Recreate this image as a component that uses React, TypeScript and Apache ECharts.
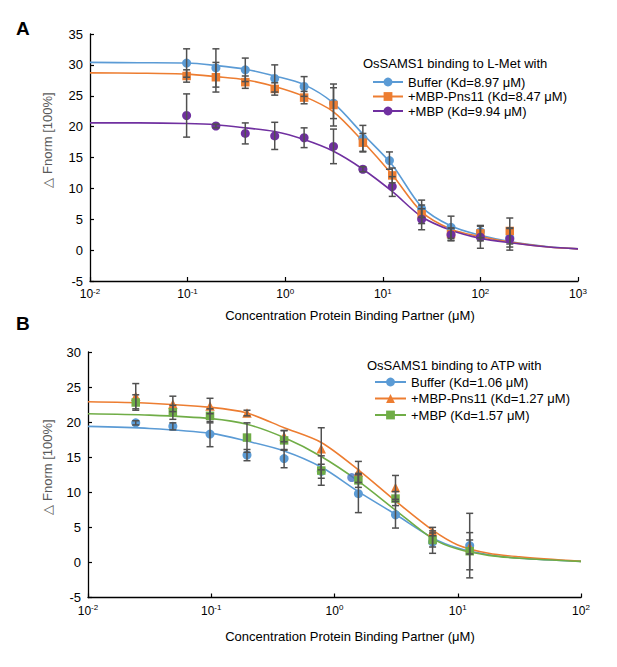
import React, { useEffect, useRef } from "react";
import * as echarts from "echarts";

// ---------- Panel A data (OsSAMS1 binding to L-Met) ----------
const concA = [0.0977, 0.195, 0.39, 0.781, 1.5625, 3.125, 6.25, 12.5, 25, 50, 100, 200];
const concBufferA = [0.0977, 0.195, 0.39, 0.781, 1.5625, 3.125, 6.25, 11.7, 25, 50, 100, 200];
const bufferA = [30.3, 29.5, 29.2, 27.8, 26.5, 23.8, 18.1, 14.5, 6.7, 3.7, 3.0, 2.0];
const bufferErrA = [2.3, 3.1, 1.9, 2.2, 1.6, 2.5, 2.1, 1.4, 1.4, 1.8, 1.0, 1.5];
const pns11A = [28.2, 28.0, 27.2, 26.1, 24.7, 23.5, 17.4, 12.1, 5.8, 2.6, 2.7, 3.1];
const pns11ErrA = [1.0, 2.4, 1.0, 1.0, 1.0, 3.4, 1.5, 1.2, 1.5, 1.0, 1.2, 2.1];
const mbpA = [21.8, 20.1, 18.9, 18.5, 18.2, 16.8, 13.1, 10.3, 5.0, 2.5, 2.1, 1.8];
const mbpErrA = [3.5, 0.3, 1.7, 2.2, 1.6, 2.8, 0.4, 1.6, 1.7, 1.0, 1.8, 1.8];

const fitXA = [0.01, 0.0316, 0.0977, 0.195, 0.39, 0.78, 1.56, 3.125, 6.25, 12.5, 25, 50, 100, 200, 500, 1000];
const fitBufferA = [30.4, 30.35, 30.3, 29.9, 29.3, 28.2, 26.8, 23.8, 18.8, 13.8, 7.0, 3.9, 2.4, 1.4, 0.55, 0.2];
const fitPns11A = [28.7, 28.65, 28.5, 28.1, 27.6, 26.5, 24.9, 22.4, 17.6, 12.2, 6.2, 3.4, 2.2, 1.3, 0.5, 0.2];
const fitMbpA = [20.6, 20.6, 20.5, 20.3, 19.8, 19.2, 17.9, 16.0, 13.1, 9.5, 5.4, 3.2, 1.9, 1.2, 0.5, 0.2];

const namesA = ["Buffer (Kd=8.97 μM)", "+MBP-Pns11 (Kd=8.47 μM)", "+MBP (Kd=9.94 μM)"];

// ---------- Panel B data (OsSAMS1 binding to ATP) ----------
const concB = [0.0244, 0.0488, 0.0977, 0.195, 0.39, 0.781, 1.5625, 3.125, 6.25, 12.5];
const bufferB = [19.9, 19.4, 18.3, 15.3, 14.8, 13.0, 9.8, 6.8, 2.9, 2.4];
const bufferErrB = [0.3, 0.5, 1.8, 0.8, 1.3, 1.0, 2.7, 1.9, 1.6, 4.6];
const pns11B = [23.7, 22.6, 22.3, 21.3, 18.0, 16.2, 12.9, 10.7, 4.4, 2.2];
const pns11ErrB = [1.8, 1.1, 1.1, 0.4, 0.8, 3.0, 1.5, 1.7, 0.6, 1.0];
const mbpB = [22.8, 21.4, 20.9, 17.8, 17.4, 13.1, 11.7, 9.1, 3.2, 1.6];
const mbpErrB = [1.1, 1.0, 1.0, 2.1, 1.4, 2.1, 1.0, 1.0, 1.0, 2.65];
const extraPointB = [[1.38, 12.1]];

const fitXB = [0.01, 0.0316, 0.1, 0.195, 0.39, 0.78, 1.56, 3.16, 6.25, 10, 17.8, 31.6, 100];
const fitBufferB = [19.4, 19.1, 18.4, 17.3, 15.9, 13.6, 10.1, 6.8, 3.5, 2.05, 1.1, 0.6, 0.15];
const fitPns11B = [22.9, 22.7, 22.1, 21.3, 19.2, 17.1, 13.2, 8.7, 4.6, 2.5, 1.3, 0.8, 0.15];
const fitMbpB = [21.2, 21.0, 20.5, 19.7, 17.8, 15.1, 11.6, 7.4, 3.4, 1.9, 1.0, 0.6, 0.15];

const namesB = ["Buffer (Kd=1.06 μM)", "+MBP-Pns11 (Kd=1.27 μM)", "+MBP (Kd=1.57 μM)"];

// ---------- Ticks ----------
const yTicksA = { min: -5, max: 35, interval: 5 };
const yTicksB = { min: -5, max: 30, interval: 5 };
const xRangeA = { min: 0.01, max: 1000 };
const xRangeB = { min: 0.01, max: 100 };

const BLUE = "#5B9BD5";
const ORANGE = "#ED7D31";
const PURPLE = "#7030A0";
const GREEN = "#70AD47";
const BAR = "#505050";
const FONT = '"Liberation Sans", Arial, Helvetica, sans-serif';

const zip = (xs: number[], ys: number[]) => xs.map((x, i) => [x, ys[i]]);
const errData = (xs: number[], ys: number[], es: number[]) =>
  xs.map((x, i) => [x, ys[i] - es[i], ys[i] + es[i]]);

const renderErr = (params: any, api: any) => {
  const x = api.value(0);
  const lo = api.value(1);
  const hi = api.value(2);
  const p1 = api.coord([x, hi]);
  const p2 = api.coord([x, lo]);
  const w = 3.5;
  const st = { stroke: BAR, lineWidth: 1.5 };
  return {
    type: "group",
    children: [
      { type: "line", shape: { x1: p1[0], y1: p1[1], x2: p2[0], y2: p2[1] }, style: st },
      { type: "line", shape: { x1: p1[0] - w, y1: p1[1], x2: p1[0] + w, y2: p1[1] }, style: st },
      { type: "line", shape: { x1: p2[0] - w, y1: p2[1], x2: p2[0] + w, y2: p2[1] }, style: st },
    ],
  };
};

const supFormatter = (v: number) => "10{s|" + Math.round(Math.log10(v)) + "}";

const makeX = (idx: number, range: { min: number; max: number }) => ({
  type: "log",
  logBase: 10,
  gridIndex: idx,
  min: range.min,
  max: range.max,
  axisLine: { show: true, onZero: false, lineStyle: { color: "#000", width: 1.3 } },
  axisTick: { show: true, inside: true, length: 4, lineStyle: { color: "#000", width: 1.2 } },
  minorTick: { show: false },
  splitLine: { show: false },
  axisLabel: {
    margin: 6,
    formatter: supFormatter,
    color: "#000",
    fontFamily: FONT,
    fontSize: 12,
    lineHeight: 14,
    rich: {
      s: { fontSize: 8, lineHeight: 14, verticalAlign: "top", fontFamily: FONT, color: "#000" },
    },
  },
});

const makeY = (idx: number, t: { min: number; max: number; interval: number }) => ({
  type: "value",
  gridIndex: idx,
  min: t.min,
  max: t.max,
  interval: t.interval,
  axisLine: { show: true, lineStyle: { color: "#000", width: 1.3 } },
  axisTick: { show: true, inside: true, length: 4, lineStyle: { color: "#000", width: 1.2 } },
  splitLine: { show: false },
  axisLabel: { margin: 7, color: "#000", fontFamily: FONT, fontSize: 13 },
});

const curve = (name: string, idx: number, xs: number[], ys: number[], color: string, symbol: string) => ({
  type: "line",
  name,
  xAxisIndex: idx,
  yAxisIndex: idx,
  data: zip(xs, ys),
  smooth: 0.3,
  showSymbol: false,
  symbol,
  color,
  lineStyle: { color, width: 1.6 },
  z: 2,
});

const points = (name: string, idx: number, xs: number[], ys: number[], color: string, symbol: string, size: number) => ({
  type: "scatter",
  name,
  xAxisIndex: idx,
  yAxisIndex: idx,
  data: zip(xs, ys),
  symbol,
  symbolSize: size,
  itemStyle: { color, opacity: 1 },
  z: 3,
});

const bars = (idx: number, xs: number[], ys: number[], es: number[]) => ({
  type: "custom",
  xAxisIndex: idx,
  yAxisIndex: idx,
  renderItem: renderErr,
  encode: { x: 0, y: [1, 2] },
  data: errData(xs, ys, es),
  z: 4,
  silent: true,
});

export default function App() {
  const ref = useRef<HTMLDivElement>(null);
  useEffect(() => {
    document.body.style.margin = "0";
    if (!ref.current) return;
    const chart = echarts.init(ref.current, undefined, { renderer: "svg" });
    const option: any = {
      animation: false,
      backgroundColor: "#fff",
      textStyle: { fontFamily: FONT },
      grid: [
        { left: 90, top: 34, width: 488, height: 247 },
        { left: 88, top: 352, width: 493, height: 245.5 },
      ],
      xAxis: [makeX(0, xRangeA), makeX(1, xRangeB)],
      yAxis: [makeY(0, yTicksA), makeY(1, yTicksB)],
      legend: [
        {
          data: namesA,
          orient: "vertical",
          left: 367,
          top: 70,
          itemWidth: 30,
          itemHeight: 11,
          itemGap: 0.5,
          selectedMode: false,
          textStyle: { fontFamily: FONT, fontSize: 13, color: "#000", lineHeight: 14 },
        },
        {
          data: namesB,
          orient: "vertical",
          left: 369,
          top: 370,
          itemWidth: 31,
          itemHeight: 11,
          itemGap: 2.5,
          selectedMode: false,
          textStyle: { fontFamily: FONT, fontSize: 13, color: "#000", lineHeight: 14 },
        },
      ],
      graphic: [
        { type: "text", left: 16, top: 19, style: { text: "A", font: "bold 19px " + FONT, fill: "#000" } },
        { type: "text", left: 16, top: 314, style: { text: "B", font: "bold 19px " + FONT, fill: "#000" } },
        {
          type: "text",
          x: 363,
          y: 63.5,
          style: { text: "OsSAMS1 binding to L-Met with", font: "13px " + FONT, fill: "#000", textVerticalAlign: "middle" },
        },
        {
          type: "text",
          x: 367,
          y: 365,
          style: { text: "OsSAMS1 binding to ATP with", font: "13px " + FONT, fill: "#000", textVerticalAlign: "middle" },
        },
        {
          type: "text",
          x: 350,
          y: 315,
          style: { text: "Concentration Protein Binding Partner (μM)", font: "13px " + FONT, fill: "#000", textAlign: "center", textVerticalAlign: "middle" },
        },
        {
          type: "text",
          x: 350,
          y: 636,
          style: { text: "Concentration Protein Binding Partner (μM)", font: "13px " + FONT, fill: "#000", textAlign: "center", textVerticalAlign: "middle" },
        },
        {
          type: "text",
          x: 47,
          y: 140,
          rotation: Math.PI / 2,
          style: { text: "△ Fnorm [100%]", font: "13px " + FONT, fill: "#595959", textAlign: "center", textVerticalAlign: "middle" },
        },
        {
          type: "text",
          x: 47,
          y: 467,
          rotation: Math.PI / 2,
          style: { text: "△ Fnorm [100%]", font: "13px " + FONT, fill: "#595959", textAlign: "center", textVerticalAlign: "middle" },
        },
      ],
      series: [
        curve(namesA[0], 0, fitXA, fitBufferA, BLUE, "circle"),
        curve(namesA[1], 0, fitXA, fitPns11A, ORANGE, "rect"),
        curve(namesA[2], 0, fitXA, fitMbpA, PURPLE, "circle"),
        points(namesA[0], 0, concBufferA, bufferA, BLUE, "circle", 9),
        points(namesA[1], 0, concA, pns11A, ORANGE, "rect", 8.5),
        points(namesA[2], 0, concA, mbpA, PURPLE, "circle", 9),
        bars(0, concBufferA, bufferA, bufferErrA),
        bars(0, concA, pns11A, pns11ErrA),
        bars(0, concA, mbpA, mbpErrA),

        curve(namesB[0], 1, fitXB, fitBufferB, BLUE, "circle"),
        curve(namesB[1], 1, fitXB, fitPns11B, ORANGE, "triangle"),
        curve(namesB[2], 1, fitXB, fitMbpB, GREEN, "rect"),
        points(namesB[0], 1, concB, bufferB, BLUE, "circle", 9),
        points(namesB[1], 1, concB, pns11B, ORANGE, "triangle", 9.5),
        points(namesB[2], 1, concB, mbpB, GREEN, "rect", 8.5),
        {
          type: "scatter",
          xAxisIndex: 1,
          yAxisIndex: 1,
          data: extraPointB,
          symbol: "circle",
          symbolSize: 9,
          itemStyle: { color: "#4472C4" },
          z: 2.5,
        },
        bars(1, concB, bufferB, bufferErrB),
        bars(1, concB, pns11B, pns11ErrB),
        bars(1, concB, mbpB, mbpErrB),
      ],
    };
    chart.setOption(option);
    return () => chart.dispose();
  }, []);
  return <div ref={ref} style={{ width: 617, height: 667 }} />;
}
